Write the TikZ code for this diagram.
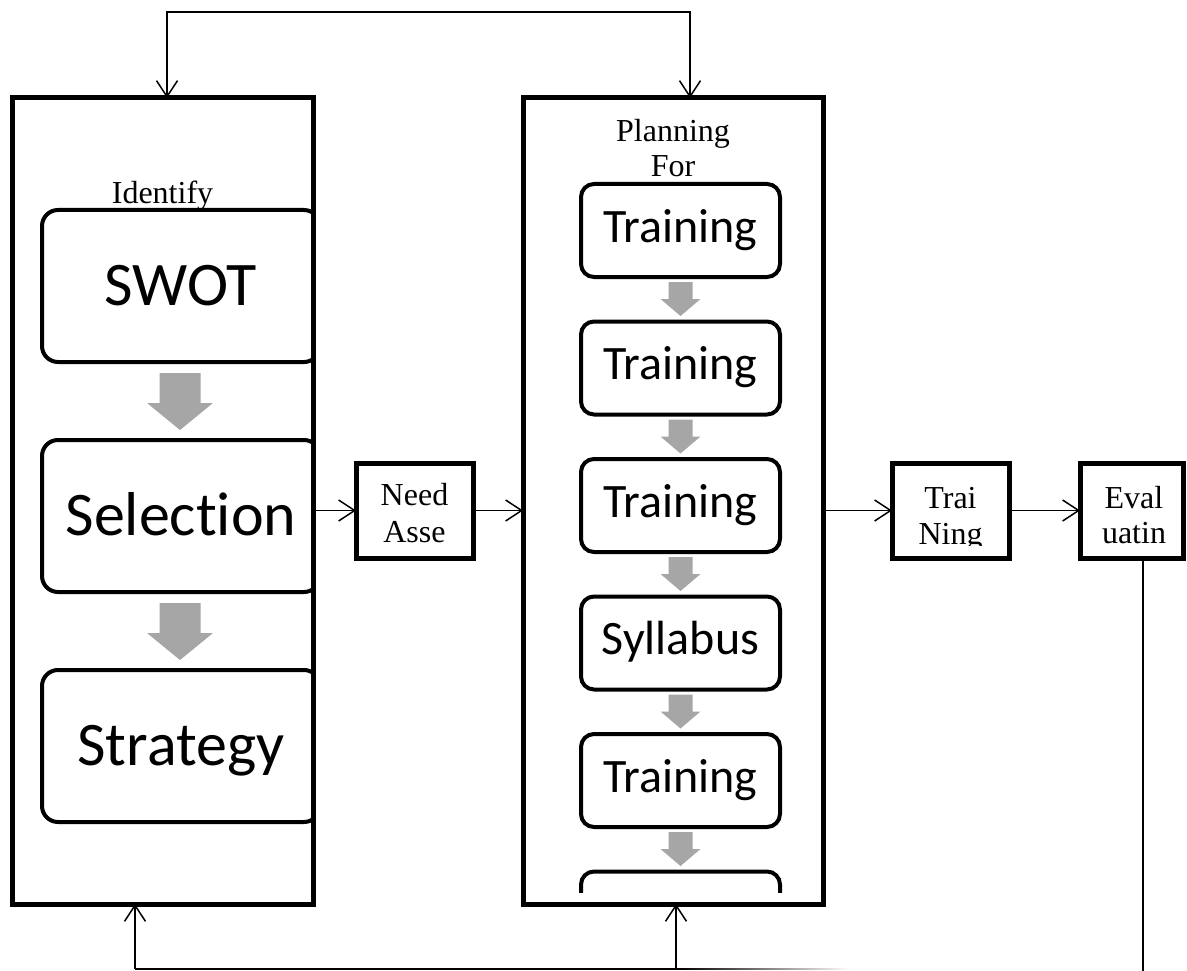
\documentclass[tikz,border=0pt]{standalone}
\usepackage{fontspec}
\setmainfont{Liberation Serif}
\newfontfamily\calfont[Ligatures=NoCommon]{Carlito}
\usetikzlibrary{arrows.meta,calc}
\definecolor{arrowgray}{HTML}{A6A6A6}
\tikzset{
 bigbox/.style={draw, line width=5pt, inner sep=0pt, outer sep=0pt},
 smallbox/.style={draw, line width=5pt, inner sep=0pt, outer sep=0pt, minimum width=117pt, minimum height=95pt},
 rbox/.style={draw, line width=4pt, rounded corners=13pt, inner sep=0pt, outer sep=0pt},
 lbl/.style={font=\fontsize{32pt}{37pt}\selectfont, inner sep=0pt, anchor=base},
 calbig/.style={font=\calfont\fontsize{62pt}{70pt}\selectfont, text height=38pt, text depth=0pt},
 calsmall/.style={font=\calfont\fontsize{48pt}{54pt}\selectfont, text height=23pt, text depth=0pt},
 conn/.style={line width=1.5pt},
 arr/.style={conn, -{Straight Barb[length=16pt,width=21pt]}},
 darr/.style={conn, {Straight Barb[length=16pt,width=21pt]}-{Straight Barb[length=16pt,width=21pt]}},
 garrow/.style={fill=arrowgray},
 bigdown/.pic={\fill[garrow] (-20.5,0) -- (20.5,0) -- (20.5,30) -- (33,30) -- (0,57) -- (-33,30) -- (-20.5,30) -- cycle;},
 smalldown/.pic={\fill[garrow] (-12,0) -- (12,0) -- (12,17) -- (20,17) -- (0,34) -- (-20,17) -- (-12,17) -- cycle;}
}
\begin{document}
\begin{tikzpicture}[x=1pt,y=-1pt]
\useasboundingbox (0,0) rectangle (1187,971);
\fill[white] (0,0) rectangle (1187,971);

% left column SmartArt
\begin{scope}
\clip (0,0) rectangle (313,971);
\node[rbox, calbig, rounded corners=16pt, minimum width=278pt, minimum height=152pt] (swot) at (181,286) {SWOT};
\node[rbox, calbig, rounded corners=16pt, minimum width=278pt, minimum height=152pt] (sel) at (181,516) {Selection};
\node[rbox, calbig, rounded corners=16pt, minimum width=278pt, minimum height=152pt] (strat) at (181,746) {Strategy};
\end{scope}
\pic at (180,373) {bigdown};
\pic at (180,603) {bigdown};

% middle column SmartArt
\begin{scope}
\clip (500,0) rectangle (850,892);
\node[rbox, calsmall, minimum width=199pt, minimum height=93pt] (t1) at (680.5,230.5) {Training};
\node[rbox, calsmall, minimum width=199pt, minimum height=93pt] (t2) at (680.5,368) {Training};
\node[rbox, calsmall, minimum width=199pt, minimum height=93pt] (t3) at (680.5,505.5) {Training};
\node[rbox, calsmall, minimum width=199pt, minimum height=93pt] (syl) at (680.5,643) {Syllabus};
\node[rbox, calsmall, minimum width=199pt, minimum height=93pt] (t5) at (680.5,780.5) {Training};
\node[rbox, calsmall, minimum width=199pt, minimum height=93pt] (t6) at (680.5,918) {};
\end{scope}
\pic at (680.5,282) {smalldown};
\pic at (680.5,419.5) {smalldown};
\pic at (680.5,557) {smalldown};
\pic at (680.5,694.5) {smalldown};
\pic at (680.5,832) {smalldown};

% big boxes
\node[bigbox, minimum width=301pt, minimum height=806pt] (L) at (162.5,501) {};
\node[bigbox, minimum width=300pt, minimum height=806pt] (M) at (673,501) {};
\node[lbl] (idl) at (162.5,204) {Identify};
\node[lbl] (pl1) at (673,142) {Planning};
\node[lbl] (pl2) at (673,177) {For};

% small boxes
\node[smallbox] (NA) at (414.5,510.5) {};
\node[smallbox] (TN) at (950.5,510.5) {};
\node[smallbox, minimum width=103pt] (EV) at (1131.5,510.5) {};
\begin{scope}
\clip (340,440) rectangle (1187,545);
\node[lbl] (na1) at (414.5,505) {Need};
\node[lbl] (na2) at (414.5,542) {Asse};
\node[lbl] (tn1) at (950.5,508) {Trai};
\node[lbl] (tn2) at (950.5,544) {Ning};
\node[lbl] (ev1) at (1134,508) {Eval};
\node[lbl] (ev2) at (1134,543) {uatin};
\end{scope}

% connectors
\draw[arr] (L.east |- NA.west) -- (NA.west);
\draw[arr] (NA.east) -- (NA.east -| M.west);
\draw[arr] (M.east |- TN.west) -- (TN.west);
\draw[arr] (TN.east) -- (EV.west);

\coordinate (tl) at (167,12);
\coordinate (tr) at (690,12);
\draw[darr] (tl |- L.north) -- (tl) -- (tr) -- (tr |- M.north);

\coordinate (bl) at (135,969);
\coordinate (bm) at (676,969);
\coordinate (fs) at (680,969);
\coordinate (br) at (1143,971);
\draw[arr] (bl) -- (bl |- L.south);
\draw[arr] (bm) -- (bm |- M.south);
\draw[conn] (bl) -- (fs);
\shade[left color=black, right color=white] (680,968.25) rectangle (850,969.75);
\draw[conn] (EV.south -| br) -- (br);
\end{tikzpicture}
\end{document}
